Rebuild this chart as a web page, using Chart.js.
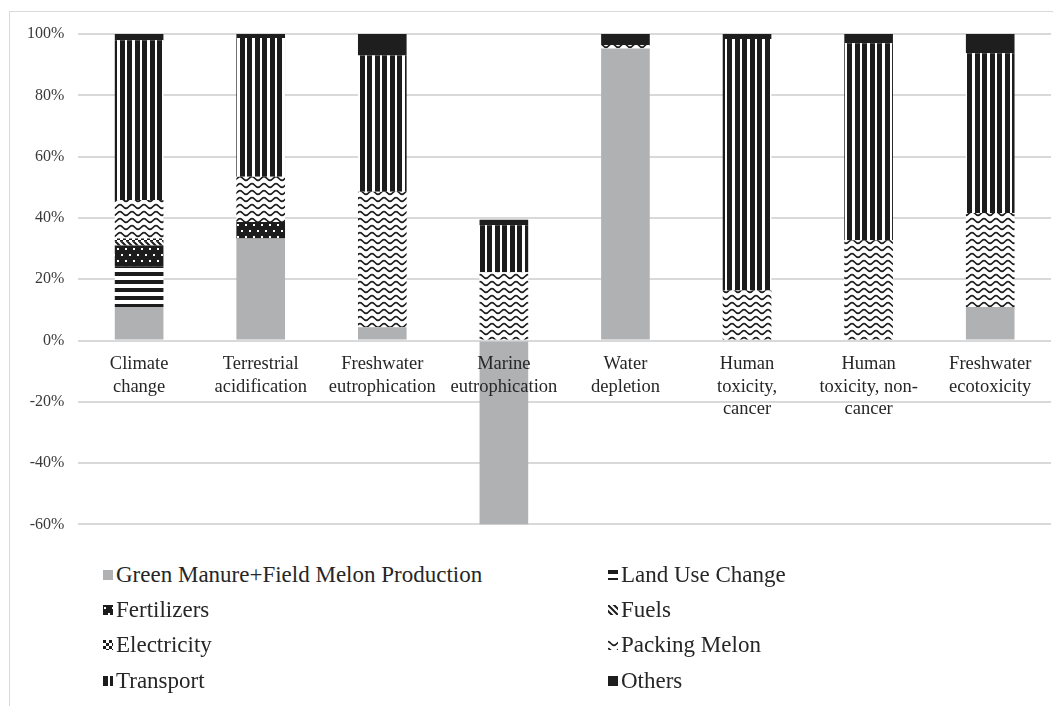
<!DOCTYPE html>
<html>
<head>
<meta charset="utf-8">
<script src="https://cdn.jsdelivr.net/npm/chart.js@4.4.0/dist/chart.umd.min.js"></script>
<style>
html, body { margin: 0; padding: 0; background: #fff; }
body { width: 1053px; height: 706px; overflow: hidden; position: relative; font-family: "Liberation Serif", "Times New Roman", serif; }
#frame { position: absolute; left: 9px; top: 11px; width: 1100px; height: 800px; border: 1px solid #d9d9d9; }
#box { position: absolute; left: 0; top: 0; width: 1053px; height: 548px; }
#legend { position: absolute; left: 103px; top: 557px; display: grid; grid-template-columns: 505px 440px; }
.item { display: flex; align-items: center; height: 35.3px; font-size: 23px; color: #262626; white-space: nowrap; }
.item canvas { width: 10px; height: 10px; margin-right: 3px; }
</style>
</head>
<body>
<div id="frame"></div>
<div id="box"><canvas id="impactChart"></canvas></div>
<div id="legend"></div>
<script>
const categories = [
    ['Climate', 'change'],
    ['Terrestrial', 'acidification'],
    ['Freshwater', 'eutrophication'],
    ['Marine', 'eutrophication'],
    ['Water', 'depletion'],
    ['Human', 'toxicity,', 'cancer'],
    ['Human', 'toxicity, non-', 'cancer'],
    ['Freshwater', 'ecotoxicity']
];

// contributions in % per impact category
const greenManure   = [10.9, 33.3,  4.3, -60.0, 95.3,  0.0,  0.0, 10.9];
const landUseChange = [13.3,  0.0,  0.0,   0.0,  0.0,  0.0,  0.0,  0.0];
const fertilizers   = [ 6.8,  5.4,  0.0,   0.0,  0.0,  0.0,  0.0,  0.0];
const fuels         = [ 1.2,  0.0,  0.0,   0.0,  0.0,  0.0,  0.0,  0.0];
const electricity   = [ 1.1,  0.0,  0.0,   0.0,  0.0,  0.0,  0.0,  0.0];
const packingMelon  = [12.5, 14.7, 44.2,  22.3,  1.1, 16.3, 32.7, 30.7];
const transport     = [52.2, 45.3, 44.5,  15.3,  0.0, 82.1, 64.3, 52.1];
const others        = [ 2.0,  1.3,  7.0,   1.8,  3.6,  1.6,  3.0,  6.3];

const yMin = -60, yMax = 100, yStep = 20;

const INK = '#1c1c1c';

function makePattern(w, h, draw) {
    const c = document.createElement('canvas');
    c.width = w; c.height = h;
    const g = c.getContext('2d');
    g.fillStyle = '#fff';
    g.fillRect(0, 0, w, h);
    g.fillStyle = INK;
    g.strokeStyle = INK;
    draw(g, w, h);
    return g.createPattern(c, 'repeat');
}

const hStripes = makePattern(8, 8, g => g.fillRect(0, 0, 8, 4));

const dots = makePattern(8, 12, g => {
    g.fillRect(0, 0, 8, 12);
    g.fillStyle = '#fff';
    g.fillRect(1, 2, 2, 2);
    g.fillRect(5, 8, 2, 2);
});

const diag = makePattern(6, 6, g => {
    g.lineWidth = 2;
    g.beginPath();
    g.moveTo(-1, -1); g.lineTo(7, 7);
    g.moveTo(-1, 5); g.lineTo(1, 7);
    g.moveTo(5, -1); g.lineTo(7, 1);
    g.stroke();
});

const checker = makePattern(6, 6, g => {
    g.fillRect(0, 0, 3, 3);
    g.fillRect(3, 3, 3, 3);
});

const waves = makePattern(12, 7, g => {
    g.lineWidth = 1.7;
    g.beginPath();
    for (let x = 0; x <= 12; x++) {
        const y = 3.5 - 1.9 * Math.cos(2 * Math.PI * x / 12);
        if (x === 0) g.moveTo(x, y); else g.lineTo(x, y);
    }
    g.stroke();
});

const vStripes = makePattern(15, 8, g => {
    g.fillRect(0, 0, 5, 8);
    g.fillRect(7, 0, 5, 8);
});

const htmlLegend = {
    id: 'htmlLegend',
    afterUpdate(chart) {
        const box = document.getElementById('legend');
        box.innerHTML = '';
        chart.options.plugins.legend.labels.generateLabels(chart).forEach(item => {
            const row = document.createElement('div');
            row.className = 'item';
            const sw = document.createElement('canvas');
            sw.width = 10; sw.height = 10;
            const g = sw.getContext('2d');
            g.fillStyle = item.fillStyle;
            g.fillRect(0, 0, 10, 10);
            row.appendChild(sw);
            row.appendChild(document.createTextNode(item.text));
            box.appendChild(row);
        });
    }
};

const serif = 'Liberation Serif';

new Chart(document.getElementById('impactChart'), {
    type: 'bar',
    data: {
        labels: categories,
        datasets: [
            { label: 'Green Manure+Field Melon Production', data: greenManure, backgroundColor: '#b0b1b3' },
            { label: 'Land Use Change', data: landUseChange, backgroundColor: hStripes },
            { label: 'Fertilizers', data: fertilizers, backgroundColor: dots },
            { label: 'Fuels', data: fuels, backgroundColor: diag },
            { label: 'Electricity', data: electricity, backgroundColor: checker },
            { label: 'Packing Melon', data: packingMelon, backgroundColor: waves },
            { label: 'Transport', data: transport, backgroundColor: vStripes },
            { label: 'Others', data: others, backgroundColor: '#1e1e1e' }
        ]
    },
    options: {
        responsive: true,
        maintainAspectRatio: false,
        animation: false,
        datasets: { bar: { barPercentage: 0.4, categoryPercentage: 1 } },
        layout: { padding: { top: 34, left: 13, right: 2, bottom: 10 } },
        plugins: {
            legend: { display: false },
            tooltip: { enabled: false }
        },
        scales: {
            x: {
                stacked: true,
                position: { y: 0 },
                grid: { display: false },
                border: { display: false },
                ticks: {
                    z: 1,
                    font: { family: serif, size: 18.5 },
                    color: '#262626',
                    padding: 5,
                    maxRotation: 0,
                    autoSkip: false
                }
            },
            y: {
                stacked: true,
                min: yMin,
                max: yMax,
                grid: { color: '#d9d9d9', lineWidth: 2, drawTicks: false },
                border: { display: false },
                ticks: {
                    stepSize: yStep,
                    font: { family: serif, size: 16 },
                    color: '#3a3a3a',
                    padding: 14,
                    callback: v => v + '%'
                }
            }
        }
    },
    plugins: [htmlLegend]
});
</script>
</body>
</html>
